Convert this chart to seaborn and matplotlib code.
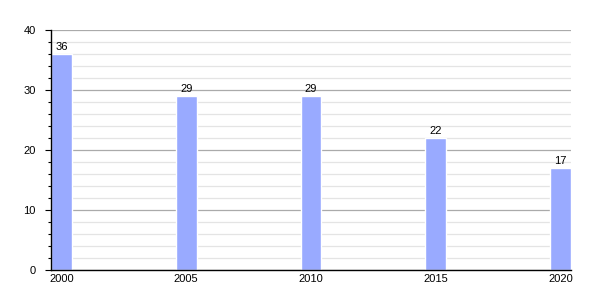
import matplotlib
matplotlib.use("Agg")
import matplotlib.pyplot as plt
import seaborn as sns
import pandas as pd
from matplotlib.ticker import MultipleLocator

years = ["2000", "2005", "2010", "2015", "2020"]
values = [36, 29, 29, 22, 17]

sns.set_style("white")
plt.rcParams['font.family'] = ['Liberation Sans', 'DejaVu Sans']
plt.rcParams['text.color'] = 'black'
plt.rcParams['xtick.color'] = 'black'
plt.rcParams['ytick.color'] = 'black'

df = pd.DataFrame({"year": years, "value": values})

fig = plt.figure(figsize=(6, 3), dpi=100)
ax = fig.add_axes([0.085, 0.1, 0.8667, 0.8])

sns.barplot(data=df, x="year", y="value", color="#99aaff", saturation=1,
            width=0.168, ax=ax, zorder=3)

ax.set_xlim(-0.084, 4.084)
ax.set_ylim(0, 40)
ax.yaxis.set_major_locator(MultipleLocator(10))
ax.yaxis.set_minor_locator(MultipleLocator(2))
ax.grid(which="major", axis="y", color="#aaaaaa", linewidth=0.9, zorder=0)
ax.grid(which="minor", axis="y", color="#e4e4e4", linewidth=0.9, zorder=0)
ax.set_axisbelow(True)

for s in ["top", "right"]:
    ax.spines[s].set_visible(False)
for s in ["left", "bottom"]:
    ax.spines[s].set_color("black")
    ax.spines[s].set_linewidth(1.0)
    ax.spines[s].set_zorder(5)

ax.tick_params(axis="y", which="major", length=4.5, width=0.8, color="black",
               labelsize=8, left=True, pad=6.5, labelcolor="black")
ax.tick_params(axis="y", which="minor", length=2.5, width=0.8, color="black", left=True)
ax.tick_params(axis="x", length=0, labelsize=8, pad=3, labelcolor="black")
ax.set_xlabel("")
ax.set_ylabel("")

for i, v in enumerate(values):
    ax.text(i, v + 0.4, str(v), ha="center", va="bottom", fontsize=8, color="black")

fig.savefig("out.png", dpi=100)
